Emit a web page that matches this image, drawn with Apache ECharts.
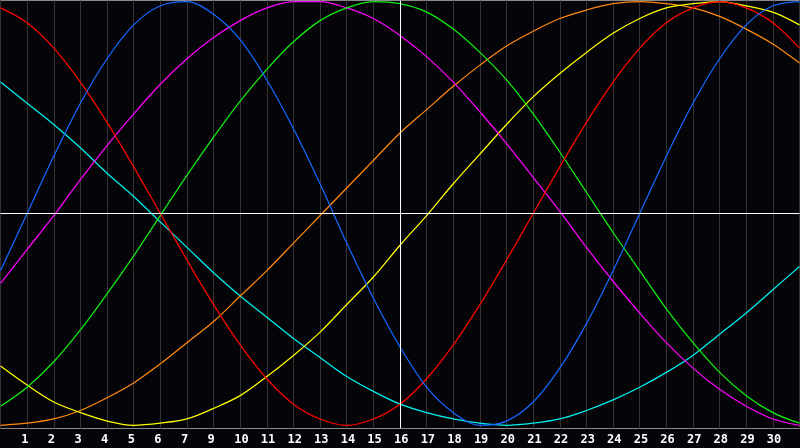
<!DOCTYPE html>
<html>
<head>
<meta charset="utf-8">
<script src="https://cdn.jsdelivr.net/npm/echarts@6/dist/echarts.min.js"></script>
<style>
    html, body { margin: 0; padding: 0; background: #050409; }
    #chart { width: 800px; height: 448px; }
</style>
</head>
<body>
<div id="chart"></div>
<script>
    // day positions 0..30, labels sit on grid lines 1..29 (no "8" on the original)
    var days = [0,1,2,3,4,5,6,7,8,9,10,11,12,13,14,15,16,17,18,19,20,21,22,23,24,25,26,27,28,29,30];
    var dayLabels = ['1','2','3','4','5','6','7','9','10','11','12','13','14','15','16','17','18','19','20','21','22','23','24','25','26','27','28','29','30'];

    // values, -100..100
    var physical     = [-27,0,27,52,73,89,98,100,94,82,63,40,14,-14,-40,-63,-82,-94,-100,-98,-89,-73,-52,-27,0,27,52,73,89,98,100];
    var emotional    = [97,90,78,62,43,22,0,-22,-43,-62,-78,-90,-97,-100,-97,-90,-78,-62,-43,-22,0,22,43,62,78,90,97,100,97,90,78];
    var intellectual = [-91,-82,-70,-55,-38,-20,-1,18,36,53,68,81,91,97,100,99,95,87,76,63,47,29,10,-9,-27,-45,-61,-75,-86,-94,-99];
    var intuitive    = [-33,-17,-1,16,32,47,61,73,83,91,97,100,100,97,92,84,74,62,48,33,17,1,-16,-32,-47,-61,-73,-83,-91,-97,-100];
    var aesthetic    = [-72,-81,-89,-94,-98,-100,-99,-97,-92,-86,-77,-67,-56,-43,-30,-15,-1,14,28,42,55,66,76,85,92,97,99,100,98,95,89];
    var awareness    = [-100,-99,-97,-93,-87,-80,-71,-61,-51,-39,-27,-14,-1,12,25,38,49,60,70,79,86,92,96,99,100,99,97,93,87,80,71];
    var spiritual    = [62,52,42,31,19,8,-4,-16,-28,-39,-49,-59,-68,-77,-84,-90,-94,-97,-99,-100,-99,-97,-93,-88,-82,-75,-67,-57,-47,-36,-25];

    function pairs(vals) {
        var out = [];
        for (var i = 0; i < days.length; i++) out.push([days[i], vals[i]]);
        return out;
    }

    function curve(name, color, vals) {
        return {
            name: name,
            type: 'line',
            data: pairs(vals),
            smooth: 0.33,
            showSymbol: false,
            silent: true,
            lineStyle: { color: color, width: 1.25 },
            z: 3
        };
    }

    var myChart = echarts.init(document.getElementById('chart'));
    var series = [
        curve('spiritual', '#00f0f0', spiritual),
        curve('awareness', '#ff8a10', awareness),
        curve('aesthetic', '#ffff00', aesthetic),
        curve('intuitive', '#ff00ff', intuitive),
        curve('intellectual', '#10f010', intellectual),
        curve('emotional', '#ff0000', emotional),
        curve('physical', '#1468ff', physical)
    ];
    // white cross through the middle of the chart
    series[0].markLine = {
        silent: true,
        symbol: 'none',
        label: { show: false },
        lineStyle: { color: '#ffffff', width: 1, type: 'solid' },
        data: [{ xAxis: 15 }, { yAxis: 0 }]
    };

    var option = {
        backgroundColor: '#050409',
        animation: false,
        grid: {
            left: 0.5,
            right: 0.5,
            top: 0.5,
            bottom: 19.5,
            show: true,
            borderColor: '#8a8a8a',
            borderWidth: 1,
            backgroundColor: 'transparent'
        },
        xAxis: {
            type: 'value',
            min: 0,
            max: 30,
            interval: 1,
            axisLine: { show: false },
            axisTick: { show: false },
            splitLine: { show: true, lineStyle: { color: '#343434', width: 1 } },
            axisLabel: {
                show: true,
                showMinLabel: false,
                showMaxLabel: false,
                margin: 5,
                align: 'center',
                // labels start a few px left of their grid line, like the original
                formatter: function (v) {
                    var t = dayLabels[v - 1];
                    return t ? '{d|' + t + '}' : '';
                },
                rich: {
                    d: {
                        width: 12,
                        align: 'left',
                        color: '#ffffff',
                        fontFamily: 'DejaVu Sans Mono',
                        fontWeight: 'bold',
                        fontSize: 12
                    }
                }
            }
        },
        yAxis: {
            type: 'value',
            min: -101.5,
            max: 100.5,
            axisLine: { show: false },
            axisTick: { show: false },
            axisLabel: { show: false },
            splitLine: { show: false }
        },
        series: series
    };
    myChart.setOption(option);
</script>
</body>
</html>
